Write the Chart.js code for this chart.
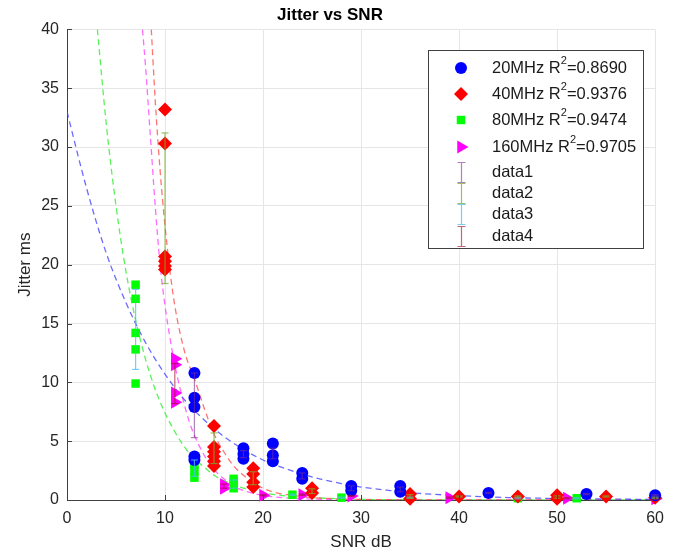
<!DOCTYPE html>
<html>
<head>
<meta charset="utf-8">
<script src="https://cdn.jsdelivr.net/npm/chart.js@4/dist/chart.umd.min.js"></script>
<style>
  html, body { margin: 0; padding: 0; background: #fff; }
  #wrap { width: 673px; height: 556px; }
</style>
</head>
<body>
<div id="wrap"><canvas id="jitter" width="673" height="556"></canvas></div>
<script>
// measured points (SNR dB, jitter ms) per bandwidth
const snr20 = [13, 13, 13, 13, 13, 18, 18, 18, 21, 21, 21, 24, 24, 29, 29, 34, 34, 43, 53, 60];
const jit20 = [10.8, 8.7, 7.9, 3.7, 3.4, 4.4, 3.9, 3.5, 4.8, 3.8, 3.3, 2.3, 1.8, 1.2, 0.8, 1.2, 0.7, 0.6, 0.5, 0.4];
const snr40 = [10, 10, 10, 10, 10, 10, 15, 15, 15, 15, 15, 15, 19, 19, 19, 19, 25, 25, 35, 35, 40, 46, 50, 50, 55, 60];
const jit40 = [33.2, 30.3, 20.7, 20.3, 19.9, 19.6, 6.3, 4.5, 4.1, 3.7, 3.3, 2.9, 2.7, 2.2, 1.5, 1.1, 1.0, 0.6, 0.5, 0.1, 0.3, 0.3, 0.4, 0.1, 0.3, 0.2];
const snr80 = [7, 7, 7, 7, 7, 13, 13, 13, 13, 17, 17, 17, 23, 28, 35, 46, 52];
const jit80 = [18.3, 17.1, 14.2, 12.8, 9.9, 3.6, 3.0, 2.5, 1.9, 1.8, 1.5, 1.0, 0.45, 0.2, 0.2, 0.15, 0.15];
const snr160 = [11, 11, 11, 11, 16, 16, 20, 24, 29, 39, 51, 60];
const jit160 = [12.0, 11.5, 9.1, 8.3, 1.3, 1.0, 0.4, 0.45, 0.35, 0.2, 0.15, 0.1];

// fitted curves
const fitX20 = [0, 2, 4, 6, 8, 10, 12, 14, 16, 18, 20, 22, 24, 26, 28, 30, 33, 36, 40, 45, 50, 55, 60];
const fitY20 = [33, 26.5, 21, 16.8, 13.4, 10.7, 8.5, 6.8, 5.4, 4.3, 3.4, 2.75, 2.2, 1.75, 1.4, 1.1, 0.8, 0.56, 0.37, 0.21, 0.13, 0.08, 0.05];
const fitX40 = [8.6, 9, 9.5, 10, 10.5, 11, 12, 13, 14, 15, 16, 17, 18, 19, 20, 21, 23, 25, 28, 32, 40, 60];
const fitY40 = [40, 34, 28, 23.3, 19.5, 16.5, 12.6, 10.3, 7.8, 5.6, 4.1, 2.9, 2.1, 1.45, 1.0, 0.7, 0.38, 0.2, 0.08, 0.03, 0, 0];
const fitX80 = [3.1, 4, 5, 6, 7, 8, 9, 10, 11, 12, 13, 14, 15, 16, 18, 20, 22, 25, 30, 35, 45, 60];
const fitY80 = [40, 32, 25, 19.5, 15.3, 12, 9.4, 7.4, 5.8, 4.5, 3.5, 2.8, 2.1, 1.65, 1.0, 0.62, 0.38, 0.2, 0.06, 0.02, 0, 0];
const fitX160 = [7.7, 8, 8.5, 9, 9.5, 10, 10.5, 11, 11.5, 12, 12.5, 13, 14, 15, 16, 17, 18, 20, 22, 25, 30, 40, 60];
const fitY160 = [40, 37, 31, 25, 20, 16.5, 13.8, 11.5, 9.6, 8, 6.6, 5.5, 3.8, 2.6, 1.8, 1.2, 0.8, 0.4, 0.2, 0.08, 0.02, 0, 0];

// error bars (data1..data4)
const errX1 = [13, 18, 21, 24, 29, 34, 43, 53, 60];
const errLo1 = [5.3, 3.6, 3.5, 1.8, 0.8, 0.7, 0.55, 0.45, 0.35];
const errHi1 = [10.8, 4.2, 4.4, 2.3, 1.2, 1.1, 0.65, 0.55, 0.45];
const errX2 = [10, 15, 19, 25, 35, 40, 46, 50, 55, 60];
const errLo2 = [18.4, 3.1, 1.3, 0.55, 0.15, 0.25, 0.25, 0.15, 0.25, 0.15];
const errHi2 = [31.2, 5.7, 2.4, 0.95, 0.45, 0.35, 0.35, 0.35, 0.35, 0.25];
const errX3 = [7, 13, 17, 23, 28, 35, 46, 52];
const errLo3 = [11.1, 2.0, 1.0, 0.4, 0.15, 0.15, 0.1, 0.1];
const errHi3 = [17.9, 3.4, 1.7, 0.5, 0.25, 0.25, 0.2, 0.2];
const errX4 = [11, 16, 20, 24, 29, 39, 51, 60];
const errLo4 = [8.2, 1.0, 0.35, 0.4, 0.3, 0.15, 0.1, 0.05];
const errHi4 = [11.6, 1.35, 0.45, 0.5, 0.4, 0.25, 0.2, 0.15];

const seriesNames = ['20MHz', '40MHz', '80MHz', '160MHz'];
const r2Values = ['0.8690', '0.9376', '0.9474', '0.9705'];
const errNames = ['data1', 'data2', 'data3', 'data4'];

const xTicks = [0, 10, 20, 30, 40, 50, 60];
const yTicks = [0, 5, 10, 15, 20, 25, 30, 35, 40];

const FONT = '"Liberation Sans", Arial, Helvetica, sans-serif';
const markerColors = ['#0000ff', '#ff0000', '#00ff00', '#ff00ff'];
const fitColors = ['rgba(70,70,255,0.8)', 'rgba(255,80,80,0.8)', 'rgba(60,240,60,0.85)', 'rgba(255,70,255,0.8)'];
const errColors = ['rgba(126,47,142,0.6)', 'rgba(119,172,48,0.75)', 'rgba(77,190,238,0.75)', 'rgba(162,20,47,0.65)'];
const markers = [
  { pointStyle: 'circle', radius: 6, rotation: 0 },
  { pointStyle: 'rectRot', radius: 7, rotation: 0 },
  { pointStyle: 'rect', radius: 6, rotation: 0 },
  { pointStyle: 'triangle', radius: 7.5, rotation: 90 },
];

const zip = (xs, ys) => xs.map((x, i) => ({ x, y: ys[i] }));
const errData = (xs, lo, hi) => {
  const out = [];
  xs.forEach((x, i) => { out.push({ x, y: lo[i] }, { x, y: hi[i] }, { x, y: null }); });
  return out;
};

const pointSets = [[snr20, jit20], [snr40, jit40], [snr80, jit80], [snr160, jit160]];
const fitSets = [[fitX20, fitY20], [fitX40, fitY40], [fitX80, fitY80], [fitX160, fitY160]];
const errSets = [[errX1, errLo1, errHi1], [errX2, errLo2, errHi2], [errX3, errLo3, errHi3], [errX4, errLo4, errHi4]];

const datasets = [];
fitSets.forEach(([xs, ys], i) => {
  datasets.push({
    label: 'fit ' + seriesNames[i],
    data: zip(xs, ys),
    showLine: true,
    borderColor: fitColors[i],
    borderWidth: 1.3,
    borderDash: [6, 4],
    pointRadius: 0,
    cubicInterpolationMode: 'monotone',
    order: 3,
  });
});
pointSets.forEach(([xs, ys], i) => {
  datasets.push({
    label: seriesNames[i] + ' R2=' + r2Values[i],
    data: zip(xs, ys),
    backgroundColor: markerColors[i],
    borderWidth: 0,
    pointStyle: markers[i].pointStyle,
    pointRadius: markers[i].radius,
    rotation: markers[i].rotation,
    clip: false,
    order: 2,
  });
});
errSets.forEach(([xs, lo, hi], i) => {
  datasets.push({
    label: errNames[i],
    data: errData(xs, lo, hi),
    showLine: true,
    spanGaps: false,
    borderColor: errColors[i],
    borderWidth: 1.2,
    pointStyle: 'line',
    pointRadius: 3.5,
    pointBorderColor: errColors[i],
    pointBorderWidth: 1.2,
    clip: false,
    order: 1,
  });
});

// inward tick marks like the original axes
const innerTicks = {
  id: 'innerTicks',
  afterDatasetsDraw(chart) {
    const { ctx, chartArea: a, scales: { x, y } } = chart;
    ctx.save();
    ctx.strokeStyle = '#404040';
    ctx.lineWidth = 1;
    ctx.beginPath();
    yTicks.forEach(v => {
      const py = Math.round(y.getPixelForValue(v)) + 0.5;
      ctx.moveTo(a.left, py); ctx.lineTo(a.left + 5, py);
    });
    xTicks.forEach(v => {
      const px = Math.round(x.getPixelForValue(v)) + 0.5;
      ctx.moveTo(px, a.bottom); ctx.lineTo(px, a.bottom - 5);
    });
    ctx.stroke();
    ctx.restore();
  }
};

// boxed legend inside the axes, MATLAB style
const boxLegend = {
  id: 'boxLegend',
  afterDraw(chart) {
    const { ctx } = chart;
    const bx = 428, by = 50, bw = 215, bh = 198;
    const mx = 461, tx = 492;
    ctx.save();
    ctx.fillStyle = '#fff';
    ctx.fillRect(bx, by, bw, bh);
    ctx.strokeStyle = '#404040';
    ctx.lineWidth = 1;
    ctx.strokeRect(bx + 0.5, by + 0.5, bw, bh);

    ctx.textBaseline = 'middle';
    ctx.textAlign = 'left';
    const rows = [68, 94, 120, 147];
    seriesNames.forEach((name, i) => {
      const cy = rows[i];
      ctx.fillStyle = markerColors[i];
      const m = markers[i];
      if (Chart.helpers && Chart.helpers.drawPoint) {
        Chart.helpers.drawPoint(ctx, { pointStyle: m.pointStyle, radius: m.radius, rotation: m.rotation, borderWidth: 0 }, mx, cy);
      }
      ctx.fillStyle = '#1a1a1a';
      ctx.font = '16.5px ' + FONT;
      const s = name + ' R';
      ctx.fillText(s, tx, cy);
      let w = ctx.measureText(s).width;
      ctx.font = '11px ' + FONT;
      ctx.fillText('2', tx + w, cy - 7);
      w += ctx.measureText('2').width;
      ctx.font = '16.5px ' + FONT;
      ctx.fillText('=' + r2Values[i], tx + w, cy);
    });

    const errRows = [172, 193, 214, 236];
    errNames.forEach((name, i) => {
      const cy = errRows[i];
      ctx.strokeStyle = errColors[i];
      ctx.lineWidth = 1.2;
      ctx.beginPath();
      ctx.moveTo(mx + 0.5, cy - 10); ctx.lineTo(mx + 0.5, cy + 10);
      ctx.moveTo(mx - 3.5, cy - 10 + 0.5); ctx.lineTo(mx + 4.5, cy - 10 + 0.5);
      ctx.moveTo(mx - 3.5, cy + 10 + 0.5); ctx.lineTo(mx + 4.5, cy + 10 + 0.5);
      ctx.stroke();
      ctx.fillStyle = '#1a1a1a';
      ctx.font = '16.5px ' + FONT;
      ctx.fillText(name, tx, cy);
    });
    ctx.restore();
  }
};

new Chart(document.getElementById('jitter'), {
  type: 'scatter',
  data: { datasets },
  plugins: [innerTicks, boxLegend],
  options: {
    responsive: false,
    animation: false,
    events: [],
    layout: { padding: { top: 0, right: 13, bottom: 0, left: 0 } },
    plugins: {
      legend: { display: false },
      tooltip: { enabled: false },
      title: {
        display: true,
        text: 'Jitter vs SNR',
        color: '#000',
        font: { family: FONT, size: 17, weight: 'bold' },
        padding: { top: 5, bottom: 4 },
      },
    },
    scales: {
      x: {
        type: 'linear',
        min: 0, max: 60,
        afterFit: s => { s.height = 56; },
        afterBuildTicks: s => { s.ticks = xTicks.map(v => ({ value: v })); },
        grid: { color: '#e6e6e6', drawTicks: false },
        border: { display: true, color: '#404040', width: 1 },
        ticks: { color: '#262626', padding: 9, font: { family: FONT, size: 16 } },
        title: {
          display: true, text: 'SNR dB', color: '#262626',
          font: { family: FONT, size: 17 }, padding: { top: 0, bottom: 3 },
        },
      },
      y: {
        type: 'linear',
        min: 0, max: 40,
        afterFit: s => { s.width = 67; },
        afterBuildTicks: s => { s.ticks = yTicks.map(v => ({ value: v })); },
        grid: { color: '#e6e6e6', drawTicks: false },
        border: { display: true, color: '#404040', width: 1 },
        ticks: { color: '#262626', padding: 8, font: { family: FONT, size: 16 } },
        title: {
          display: true, text: 'Jitter ms', color: '#262626',
          font: { family: FONT, size: 17 }, padding: { top: 15, bottom: 0 },
        },
      },
    },
  },
});
</script>
</body>
</html>
